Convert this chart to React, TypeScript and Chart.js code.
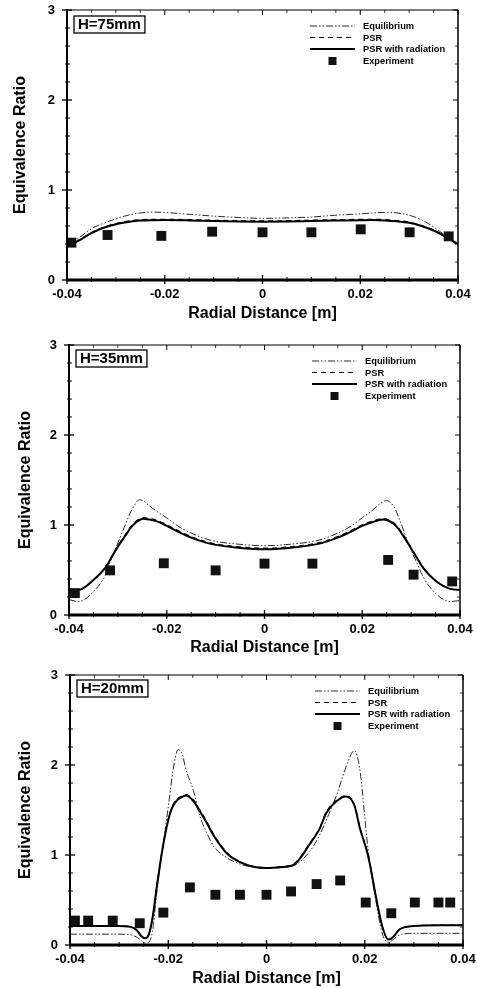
import React, { useEffect, useRef } from "react";
import { Chart, registerables } from "chart.js";
Chart.register(...registerables);

const FONT = '"Liberation Sans", Arial, Helvetica, sans-serif';

// ---------- axis ticks ----------
const X_TICKS = [-0.04, -0.02, 0, 0.02, 0.04];
const X_TICK_LABELS = ["-0.04", "-0.02", "0", "0.02", "0.04"];
const X_MINOR = [-0.035, -0.03, -0.025, -0.015, -0.01, -0.005, 0.005, 0.01, 0.015, 0.025, 0.03, 0.035];
const Y_TICKS = [0, 1, 2, 3];
const Y_TICK_LABELS = ["0", "1", "2", "3"];
const Y_MINOR = [0.2, 0.4, 0.6, 0.8, 1.2, 1.4, 1.6, 1.8, 2.2, 2.4, 2.6, 2.8];

const SERIES_NAMES = ["Equilibrium", "PSR", "PSR with radiation", "Experiment"];
const X_TITLE = "Radial Distance [m]";
const Y_TITLE = "Equivalence Ratio";
const PANEL_LABELS = ["H=75mm", "H=35mm", "H=20mm"];

// ---------- H = 75 mm ----------
const P1_X = [-0.04, -0.0375, -0.035, -0.0325, -0.03, -0.0275, -0.025, -0.0225, -0.02, -0.015, -0.01, -0.005, 0, 0.005, 0.01, 0.015, 0.02, 0.0225, 0.025, 0.0275, 0.03, 0.0325, 0.035, 0.0375, 0.04];
const P1_EQ = [0.37, 0.47, 0.57, 0.63, 0.68, 0.72, 0.745, 0.755, 0.75, 0.73, 0.71, 0.695, 0.685, 0.69, 0.7, 0.72, 0.735, 0.745, 0.75, 0.745, 0.72, 0.67, 0.59, 0.49, 0.38];
const P1_PSR = [0.37, 0.445, 0.527, 0.588, 0.628, 0.654, 0.669, 0.674, 0.675, 0.671, 0.664, 0.659, 0.657, 0.659, 0.664, 0.669, 0.674, 0.675, 0.671, 0.661, 0.643, 0.607, 0.556, 0.484, 0.4];
const P1_RAD = [0.37, 0.44, 0.52, 0.58, 0.62, 0.645, 0.66, 0.665, 0.666, 0.662, 0.655, 0.65, 0.648, 0.65, 0.655, 0.66, 0.665, 0.666, 0.662, 0.652, 0.635, 0.6, 0.55, 0.48, 0.4];
const P1_EXP_X = [-0.0391, -0.0317, -0.0207, -0.0103, 0, 0.01, 0.0201, 0.0301, 0.0381];
const P1_EXP_Y = [0.415, 0.5, 0.49, 0.537, 0.53, 0.53, 0.563, 0.53, 0.485];

// ---------- H = 35 mm ----------
const P2_X = [-0.04, -0.038, -0.035, -0.0325, -0.0315, -0.03, -0.0285, -0.0275, -0.0265, -0.0256, -0.0248, -0.0235, -0.022, -0.02, -0.0175, -0.015, -0.011, -0.005, 0, 0.005, 0.011, 0.015, 0.0175, 0.02, 0.022, 0.0235, 0.0243, 0.025, 0.0265, 0.0275, 0.0285, 0.03, 0.031, 0.0325, 0.035, 0.038, 0.04];
const P2_EQ = [0.17, 0.15, 0.26, 0.45, 0.6, 0.8, 1.0, 1.13, 1.23, 1.28, 1.27, 1.21, 1.15, 1.08, 0.98, 0.91, 0.83, 0.785, 0.77, 0.785, 0.83, 0.91, 0.98, 1.08, 1.16, 1.23, 1.26, 1.27, 1.2, 1.08, 0.93, 0.72, 0.6, 0.42, 0.24, 0.15, 0.16];
const P2_PSR = [0.28, 0.28, 0.39, 0.535, 0.628, 0.77, 0.892, 0.972, 1.032, 1.067, 1.082, 1.072, 1.052, 1.002, 0.932, 0.872, 0.802, 0.757, 0.742, 0.757, 0.802, 0.872, 0.932, 1.002, 1.042, 1.067, 1.072, 1.067, 1.022, 0.962, 0.882, 0.75, 0.658, 0.525, 0.382, 0.29, 0.28];
const P2_RAD = [0.28, 0.28, 0.39, 0.53, 0.62, 0.76, 0.88, 0.96, 1.02, 1.055, 1.07, 1.06, 1.04, 0.99, 0.92, 0.86, 0.79, 0.745, 0.73, 0.745, 0.79, 0.86, 0.92, 0.99, 1.03, 1.055, 1.06, 1.055, 1.01, 0.95, 0.87, 0.74, 0.65, 0.52, 0.38, 0.29, 0.28];
const P2_EXP_X = [-0.0388, -0.0316, -0.0206, -0.01, 0, 0.0098, 0.0253, 0.0305, 0.0384];
const P2_EXP_Y = [0.243, 0.496, 0.575, 0.496, 0.571, 0.571, 0.612, 0.448, 0.373];

// ---------- H = 20 mm ----------
const P3_X = [-0.04, -0.035, -0.03, -0.028, -0.0265, -0.0255, -0.0247, -0.024, -0.0232, -0.0224, -0.0216, -0.021, -0.0204, -0.0197, -0.019, -0.018, -0.0172, -0.0164, -0.0149, -0.0136, -0.0122, -0.0108, -0.0081, -0.0054, -0.0027, 0, 0.0027, 0.0055, 0.0088, 0.0108, 0.0122, 0.0143, 0.0162, 0.0179, 0.019, 0.0204, 0.021, 0.0224, 0.0236, 0.0248, 0.0258, 0.027, 0.03, 0.035, 0.04];
const P3_EQ = [0.12, 0.12, 0.12, 0.115, 0.09, 0.05, 0.02, 0.03, 0.15, 0.55, 0.9, 1.12, 1.37, 1.66, 1.95, 2.17, 2.13, 1.95, 1.72, 1.44, 1.25, 1.1, 0.97, 0.9, 0.865, 0.855, 0.86, 0.88, 1.04, 1.22, 1.39, 1.67, 1.98, 2.16, 1.95, 1.2, 0.92, 0.45, 0.12, 0.03, 0.06, 0.11, 0.13, 0.13, 0.13];
const P3_PSR = [0.21, 0.21, 0.21, 0.205, 0.17, 0.1, 0.075, 0.11, 0.3, 0.63, 0.93, 1.13, 1.3, 1.46, 1.56, 1.63, 1.657, 1.67, 1.615, 1.505, 1.375, 1.235, 1.03, 0.925, 0.875, 0.86, 0.87, 0.9, 1.13, 1.3, 1.48, 1.61, 1.66, 1.56, 1.31, 1.06, 0.92, 0.5, 0.2, 0.06, 0.09, 0.17, 0.21, 0.22, 0.22];
const P3_RAD = [0.21, 0.21, 0.21, 0.205, 0.17, 0.1, 0.075, 0.11, 0.3, 0.62, 0.92, 1.12, 1.29, 1.45, 1.55, 1.62, 1.645, 1.66, 1.6, 1.49, 1.36, 1.22, 1.02, 0.92, 0.87, 0.855, 0.865, 0.89, 1.12, 1.29, 1.47, 1.6, 1.65, 1.55, 1.3, 1.05, 0.91, 0.5, 0.2, 0.06, 0.09, 0.17, 0.21, 0.22, 0.22];
const P3_EXP_X = [-0.039, -0.0363, -0.0313, -0.0258, -0.021, -0.0156, -0.0104, -0.0054, 0, 0.005, 0.0102, 0.015, 0.0202, 0.0254, 0.0302, 0.035, 0.0374];
const P3_EXP_Y = [0.271, 0.271, 0.271, 0.242, 0.36, 0.64, 0.558, 0.558, 0.558, 0.595, 0.677, 0.717, 0.472, 0.353, 0.472, 0.472, 0.472];

type PanelCfg = {
  label: string;
  x: number[];
  eq: number[];
  psr: number[];
  rad: number[];
  ex: number[];
  ey: number[];
  top: number;
  height: number;
  plot: { left: number; right: number; top: number; bottom: number };
  xTitleCenter: number;
  yTitleCenter: number;
  boxOffset: number;
};

const PANELS: PanelCfg[] = [
  { label: PANEL_LABELS[0], x: P1_X, eq: P1_EQ, psr: P1_PSR, rad: P1_RAD, ex: P1_EXP_X, ey: P1_EXP_Y, top: 0, height: 330, plot: { left: 67, right: 458, top: 10, bottom: 280 }, xTitleCenter: 314, yTitleCenter: 20.5, boxOffset: 6 },
  { label: PANEL_LABELS[1], x: P2_X, eq: P2_EQ, psr: P2_PSR, rad: P2_RAD, ex: P2_EXP_X, ey: P2_EXP_Y, top: 330, height: 330, plot: { left: 69, right: 460, top: 15, bottom: 285 }, xTitleCenter: 318, yTitleCenter: 26, boxOffset: 5 },
  { label: PANEL_LABELS[2], x: P3_X, eq: P3_EQ, psr: P3_PSR, rad: P3_RAD, ex: P3_EXP_X, ey: P3_EXP_Y, top: 660, height: 328, plot: { left: 70, right: 463, top: 15, bottom: 285 }, xTitleCenter: 319, yTitleCenter: 26, boxOffset: 5 },
];

const W = 477;

const decorPlugin = {
  id: "decor",
  afterDatasetsDraw(chart: any, _args: any, opts: any) {
    const { ctx, chartArea: a, scales } = chart;
    const xs = scales.x;
    const ys = scales.y;
    ctx.save();
    ctx.strokeStyle = "#000";
    ctx.lineCap = "butt";
    const seg = (x1: number, y1: number, x2: number, y2: number, w: number) => {
      ctx.lineWidth = w;
      ctx.beginPath();
      ctx.moveTo(x1, y1);
      ctx.lineTo(x2, y2);
      ctx.stroke();
    };
    // frame
    seg(a.left, a.top - 1, a.left, a.bottom + 1, 2);
    seg(a.left - 1, a.bottom, a.right + 1, a.bottom, 3);
    seg(a.left, a.top, a.right, a.top, 1.2);
    seg(a.right, a.top, a.right, a.bottom, 1.5);
    // ticks
    X_TICKS.forEach((v) => {
      const px = xs.getPixelForValue(v);
      seg(px, a.bottom + 4, px, a.bottom - 5, 1.3);
      seg(px, a.top, px, a.top + 5, 1);
    });
    X_MINOR.forEach((v) => {
      const px = xs.getPixelForValue(v);
      seg(px, a.bottom + 2, px, a.bottom - 3, 1);
      seg(px, a.top, px, a.top + 3, 0.8);
    });
    Y_TICKS.forEach((v) => {
      const py = ys.getPixelForValue(v);
      seg(a.left - 5, py, a.left + 5, py, 1.3);
      seg(a.right - 5, py, a.right, py, 1);
    });
    Y_MINOR.forEach((v) => {
      const py = ys.getPixelForValue(v);
      seg(a.left - 2, py, a.left + 3, py, 1);
      seg(a.right - 3, py, a.right, py, 0.8);
    });
    // panel label box
    ctx.font = `bold 15px ${FONT}`;
    ctx.fillStyle = "#000";
    ctx.textBaseline = "middle";
    ctx.textAlign = "left";
    const tw = ctx.measureText(opts.label).width;
    const bx = a.left + 7;
    const by = a.top + opts.boxOffset;
    ctx.lineWidth = 1.3;
    ctx.strokeRect(bx, by, tw + 8, 17);
    ctx.fillText(opts.label, bx + 4, by + 9);
    // legend
    const rows = [16, 27.5, 39, 51];
    const x1 = a.right - 148;
    const x2 = a.right - 103;
    const tx = a.right - 95;
    ctx.font = `bold 9.3px ${FONT}`;
    chart.data.datasets.forEach((ds: any, i: number) => {
      const y = a.top + rows[i];
      if (ds.showLine) {
        ctx.setLineDash(ds.borderDash || []);
        ctx.lineWidth = ds.borderWidth;
        ctx.strokeStyle = ds.borderColor;
        ctx.beginPath();
        ctx.moveTo(x1, y);
        ctx.lineTo(x2, y);
        ctx.stroke();
        ctx.setLineDash([]);
      } else {
        ctx.fillStyle = ds.backgroundColor;
        const s = 8;
        ctx.fillRect((x1 + x2) / 2 - s / 2, y - s / 2, s, s);
      }
      ctx.fillStyle = "#000";
      ctx.fillText(ds.label, tx, y + 0.5);
    });
    ctx.restore();
  },
};

function Panel({ cfg }: { cfg: PanelCfg }) {
  const ref = useRef<HTMLCanvasElement | null>(null);
  useEffect(() => {
    if (!ref.current) return;
    const toPts = (xs: number[], ys: number[]) => xs.map((x, i) => ({ x, y: ys[i] }));
    const p = cfg.plot;
    const xTitleLH = 16 * 1.2;
    const yTitleLH = 16 * 1.2;
    const chart = new Chart(ref.current, {
      type: "scatter",
      data: {
        datasets: [
          { label: SERIES_NAMES[0], data: toPts(cfg.x, cfg.eq), showLine: true, borderColor: "#2a2a2a", borderWidth: 1, borderDash: [7, 2, 1.5, 2, 1.5, 2], pointRadius: 0, cubicInterpolationMode: "monotone", order: 3 },
          { label: SERIES_NAMES[1], data: toPts(cfg.x, cfg.psr), showLine: true, borderColor: "#000", borderWidth: 1.2, borderDash: [5, 4], pointRadius: 0, cubicInterpolationMode: "monotone", order: 2 },
          { label: SERIES_NAMES[2], data: toPts(cfg.x, cfg.rad), showLine: true, borderColor: "#000", borderWidth: 2, pointRadius: 0, cubicInterpolationMode: "monotone", order: 1 },
          { label: SERIES_NAMES[3], data: toPts(cfg.ex, cfg.ey), showLine: false, pointStyle: "rect", pointRadius: 7, pointBackgroundColor: "#111", backgroundColor: "#111", pointBorderColor: "#111", borderColor: "#111", pointBorderWidth: 0, order: 0 },
        ] as any,
      },
      options: {
        responsive: false,
        animation: false,
        devicePixelRatio: 1,
        layout: { padding: { left: 0, top: p.top, right: W - p.right, bottom: 0 } },
        plugins: {
          legend: { display: false },
          tooltip: { enabled: false },
          decor: { label: cfg.label, boxOffset: cfg.boxOffset },
        } as any,
        scales: {
          x: {
            type: "linear",
            min: -0.04,
            max: 0.04,
            grid: { display: true, drawOnChartArea: false, drawTicks: true, tickLength: 7, color: "rgba(0,0,0,0)" },
            border: { display: false },
            afterBuildTicks: (s: any) => {
              s.ticks = X_TICKS.map((v) => ({ value: v }));
            },
            afterFit: (s: any) => {
              s.height = cfg.height - p.bottom;
            },
            ticks: {
              padding: 0,
              maxRotation: 0,
              autoSkip: false,
              color: "#000",
              font: { family: FONT, size: 13, weight: "bold" },
              callback: (_v: any, i: number) => X_TICK_LABELS[i],
            },
            title: {
              display: true,
              text: X_TITLE,
              color: "#000",
              font: { family: FONT, size: 16, weight: "bold" },
              padding: { top: 0, bottom: cfg.height - cfg.xTitleCenter - xTitleLH / 2 },
            },
          },
          y: {
            type: "linear",
            min: 0,
            max: 3,
            grid: { display: true, drawOnChartArea: false, drawTicks: true, tickLength: 12, color: "rgba(0,0,0,0)" },
            border: { display: false },
            afterBuildTicks: (s: any) => {
              s.ticks = Y_TICKS.map((v) => ({ value: v }));
            },
            afterFit: (s: any) => {
              s.width = p.left;
            },
            ticks: {
              padding: 0,
              autoSkip: false,
              color: "#000",
              font: { family: FONT, size: 13, weight: "bold" },
              callback: (_v: any, i: number) => Y_TICK_LABELS[i],
            },
            title: {
              display: true,
              text: Y_TITLE,
              color: "#000",
              font: { family: FONT, size: 16, weight: "bold" },
              padding: { top: cfg.yTitleCenter - yTitleLH / 2, bottom: 0 },
            },
          },
        },
      } as any,
      plugins: [decorPlugin],
    });
    return () => chart.destroy();
  }, [cfg]);
  return (
    <div style={{ position: "absolute", left: 0, top: cfg.top, width: W, height: cfg.height }}>
      <canvas ref={ref} width={W} height={cfg.height} style={{ width: W, height: cfg.height, display: "block" }} />
    </div>
  );
}

export default function App() {
  return (
    <div style={{ position: "fixed", left: 0, top: 0, width: W, height: 988, background: "#fff" }}>
      {PANELS.map((c, i) => (
        <Panel key={i} cfg={c} />
      ))}
    </div>
  );
}
